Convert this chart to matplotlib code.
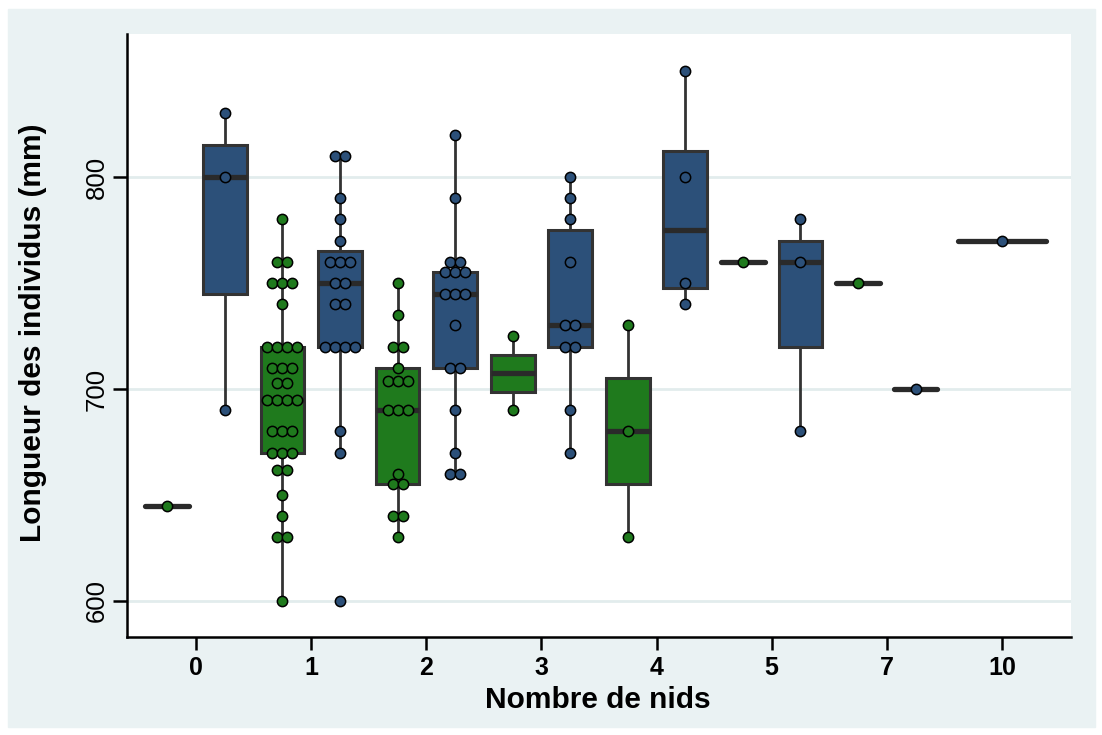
# Boxplots + swarm of body length by number of nests

import numpy as np
import matplotlib
matplotlib.use("Agg")
import matplotlib.pyplot as plt
from matplotlib.patches import Rectangle

plt.rcParams['font.family'] = ['Liberation Sans', 'DejaVu Sans']

#%% Data
categories = ['0', '1', '2', '3', '4', '5', '7', '10']

green_values = [
    [645],
    [780, 760, 760, 750, 750, 750, 740, 720, 720, 720, 720, 710, 710, 710,
     703, 703, 695, 695, 695, 695, 680, 680, 680, 670, 670, 670, 662, 662,
     650, 640, 630, 630, 600],
    [750, 735, 720, 720, 710, 704, 704, 704, 690, 690, 690, 660, 655, 655,
     640, 640, 630],
    [725, 690],
    [730, 680, 630],
    [760],
    [750],
    [],
]

blue_values = [
    [830, 800, 690],
    [810, 810, 790, 780, 770, 760, 760, 760, 750, 750, 740, 740, 720, 720,
     720, 720, 680, 670, 600],
    [820, 790, 760, 760, 755, 755, 755, 745, 745, 745, 730, 710, 710, 690,
     670, 660, 660],
    [800, 790, 780, 760, 730, 730, 720, 720, 690, 670],
    [850, 800, 750, 740],
    [780, 760, 680],
    [700],
    [770],
]

ylabel = 'Longueur des individus (mm)'
xlabel = 'Nombre de nids'

#%% Style
bg = '#eaf2f3'
green = '#1f7a1d'
blue = '#2c5079'
edge = '#333333'

fig = plt.figure(figsize=(11.02, 7.35), dpi=100)
fig.patches.append(Rectangle((8/1102, 1-727/735), (1095-8)/1102, (727-9)/735,
                             transform=fig.transFigure, color=bg, zorder=-5))
ax = fig.add_axes([127/1102, 1-637/735, (1071-127)/1102, (637-34)/735])
ax.set_facecolor('white')
ax.set_zorder(1)


def swarm_offsets(vals, d):
    # put equal values side by side, centred on the box
    vals = np.asarray(vals)
    off = np.zeros(len(vals))
    for v in np.unique(vals):
        idx = np.where(vals == v)[0]
        m = len(idx)
        off[idx] = (np.arange(m) - (m - 1) / 2) * d
    return off


def draw_group(vals, pos, width, color):
    if len(vals) == 0:
        return
    cap = 'round' if len(vals) == 1 else 'butt'
    ax.boxplot([vals], positions=[pos], widths=width, patch_artist=True,
               showcaps=False, showfliers=False, whis=1.5,
               boxprops=dict(facecolor=color, edgecolor=edge, linewidth=2.2),
               medianprops=dict(color='#2a2a2a', linewidth=3.8,
                                solid_capstyle=cap),
               whiskerprops=dict(color=edge, linewidth=2.0),
               zorder=2)
    off = swarm_offsets(vals, 0.087)
    ax.plot(pos + off, vals, 'o', ms=7.4, mfc=color, mec='black', mew=1.1,
            zorder=3, clip_on=False)


for i in range(len(categories)):
    g = green_values[i]
    b = blue_values[i]
    if len(g) and len(b):
        draw_group(g, i - 0.25, 0.38, green)
        draw_group(b, i + 0.25, 0.38, blue)
    elif len(b):
        draw_group(b, i, 0.76, blue)
    else:
        draw_group(g, i, 0.76, green)

ax.set_xlim(-0.6, 7.6)
ax.set_ylim(583, 867.5)
ax.set_xticks(range(len(categories)))
ax.set_xticklabels(categories, fontweight='bold', fontsize=18)
ax.set_yticks([600, 700, 800])
ax.set_yticklabels(['600', '700', '800'], fontsize=18.5, rotation=90,
                   va='center')

ax.tick_params(axis='x', length=9, width=1.8, pad=5, colors='black')
ax.tick_params(axis='y', length=10, width=1.8, pad=3, colors='black')
for s in ['top', 'right']:
    ax.spines[s].set_visible(False)
for s in ['left', 'bottom']:
    ax.spines[s].set_linewidth(1.8)
    ax.spines[s].set_color('black')

ax.yaxis.grid(True, color='#e2eced', linewidth=2)
ax.set_axisbelow(True)

fig.text(598/1102, 1-700/735, xlabel, ha='center', va='center',
         fontsize=21.5, fontweight='bold')
fig.text(33/1102, 1-333/735, ylabel, ha='center', va='center',
         rotation=90, fontsize=21.5, fontweight='bold')

plt.savefig('out.png', dpi=100, facecolor='white')
